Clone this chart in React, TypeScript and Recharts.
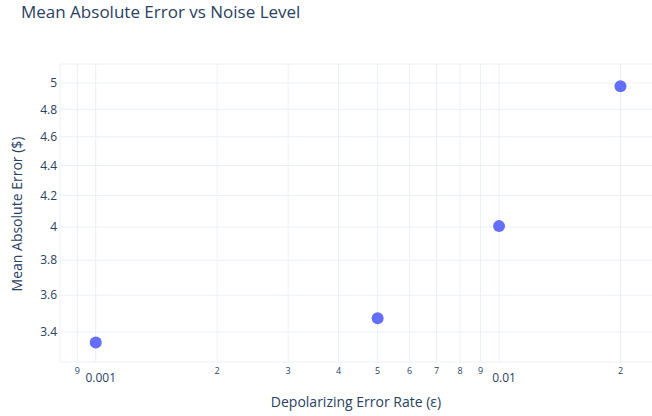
import { ScatterChart, Scatter, XAxis, YAxis, CartesianGrid } from "recharts";

// noise level (depolarizing error rate) vs MAE
const noiseRates = [0.001, 0.005, 0.01, 0.02];
const maeValues = [3.346, 3.474, 4.006, 4.974];

// plotly-style log ticks: small digits between decades, full labels on decades
const xTicks = [0.0009, 0.001, 0.002, 0.003, 0.004, 0.005, 0.006, 0.007, 0.008, 0.009, 0.01, 0.02];
const xTickLabels = ["9", "0.001", "2", "3", "4", "5", "6", "7", "8", "9", "0.01", "2"];
const yTicks = [3.4, 3.6, 3.8, 4, 4.2, 4.4, 4.6, 4.8, 5];

const points = noiseRates.map((rate, i) => ({ rate, mae: maeValues[i] }));

const FONT = "'Open Sans', verdana, arial, sans-serif";
const TEXT = "#2a3f5f";
const GRID = "#EBF0F8";

function XTick({ x, y, payload }: { x?: number; y?: number; payload?: { value: number } }) {
  const v = payload?.value ?? 0;
  const i = xTicks.findIndex((t) => Math.abs(t - v) < 1e-9);
  const label = i >= 0 ? xTickLabels[i] : String(v);
  const major = label.startsWith("0.");
  return major ? (
    <text x={(x ?? 0) + 5} y={(y ?? 0) + 15} fontSize={12} fill={TEXT} fontFamily={FONT}
      textAnchor="middle" dominantBaseline="central">
      {label}
    </text>
  ) : (
    <text x={x} y={(y ?? 0) + 8} fontSize={9} fill={TEXT} fontFamily={FONT}
      textAnchor="middle" dominantBaseline="central">
      {label}
    </text>
  );
}

function Dot(props: { cx?: number; cy?: number }) {
  return <circle cx={props.cx} cy={props.cy} r={6} fill="#636efa" />;
}

export default function App() {
  return (
    <div style={{ position: "absolute", left: 0, top: 0, width: 652, height: 416, background: "#fff", fontFamily: FONT, overflow: "hidden" }}>
      <div style={{ position: "absolute", left: 21, top: 0, fontSize: 17, color: TEXT, whiteSpace: "nowrap", lineHeight: "normal" }}>
        Mean Absolute Error vs Noise Level
      </div>
      <ScatterChart width={660} height={416} margin={{ top: 64, right: 4, bottom: 0, left: 0 }}>
        <CartesianGrid stroke={GRID} strokeWidth={1} />
        <XAxis
          dataKey="rate"
          type="number"
          scale="log"
          domain={[0.0008154, 0.0245]}
          allowDataOverflow
          ticks={xTicks}
          interval={0}
          axisLine={false}
          tickLine={false}
          tickSize={0}
          tickMargin={0}
          height={54}
          tick={<XTick />}
        />
        <YAxis
          dataKey="mae"
          type="number"
          scale="log"
          domain={[3.246, 5.149]}
          allowDataOverflow
          ticks={yTicks}
          interval={0}
          axisLine={false}
          tickLine={false}
          tickSize={0}
          tickMargin={3}
          width={60}
          tick={{ fill: TEXT, fontSize: 12, fontFamily: FONT }}
        />
        <Scatter data={points} shape={<Dot />} isAnimationActive={false} />
      </ScatterChart>
      <div style={{ position: "absolute", left: 356, top: 401, transform: "translate(-50%, -50%)", fontSize: 14, color: TEXT, whiteSpace: "nowrap" }}>
        Depolarizing Error Rate (ε)
      </div>
      <div style={{ position: "absolute", left: 16, top: 214, transform: "translate(-50%, -50%) rotate(-90deg)", fontSize: 14, color: TEXT, whiteSpace: "nowrap" }}>
        Mean Absolute Error ($)
      </div>
    </div>
  );
}
